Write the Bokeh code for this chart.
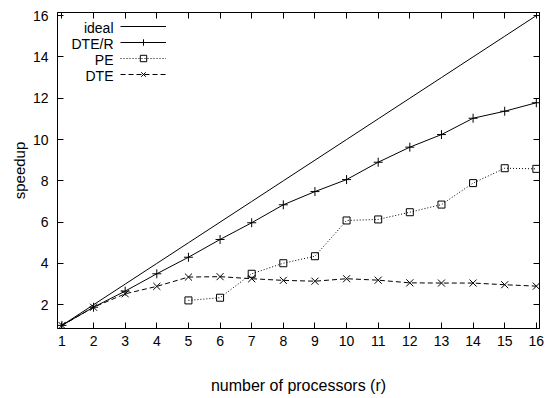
from bokeh.plotting import figure
from bokeh.models import (Range1d, FixedTicker, LinearAxis, Legend, LegendItem,
                          Label, CustomJSTickFormatter)
from bokeh.embed import file_html
from bokeh.resources import INLINE
from bokeh.core.properties import value

# ---- data ----
processors = [1, 2, 3, 4, 5, 6, 7, 8, 9, 10, 11, 12, 13, 14, 15, 16]
ideal = [1, 2, 3, 4, 5, 6, 7, 8, 9, 10, 11, 12, 13, 14, 15, 16]
dte_r = [1.0, 1.88, 2.66, 3.50, 4.30, 5.16, 5.97, 6.84, 7.48, 8.06,
         8.90, 9.63, 10.24, 11.03, 11.37, 11.78]
pe_processors = [5, 6, 7, 8, 9, 10, 11, 12, 13, 14, 15, 16]
pe = [2.21, 2.34, 3.50, 4.01, 4.35, 6.08, 6.13, 6.48, 6.85, 7.89, 8.61, 8.58]
dte = [1.0, 1.88, 2.53, 2.89, 3.34, 3.36, 3.26, 3.18, 3.14, 3.26,
       3.19, 3.06, 3.05, 3.05, 2.97, 2.90]
x_ticks = [1, 2, 3, 4, 5, 6, 7, 8, 9, 10, 11, 12, 13, 14, 15, 16]
y_ticks = [2, 4, 6, 8, 10, 12, 14, 16]
series_names = ["ideal", "DTE/R", "PE", "DTE"]

FONT = "Liberation Sans"
FS = "14px"

p = figure(width=546, height=398, output_backend="svg", toolbar_location=None,
           x_range=Range1d(0.86, 16.1), y_range=Range1d(0.85, 16.15),
           min_border_left=57, min_border_right=7, min_border_top=12,
           min_border_bottom=70)
p.grid.visible = False
p.background_fill_color = "white"
p.border_fill_color = "white"
p.outline_line_color = "black"
p.outline_line_width = 1
p.outline_line_alpha = 1

def style_axis(ax, ticks):
    ax.ticker = FixedTicker(ticks=ticks)
    ax.major_tick_in = 6
    ax.major_tick_out = 0
    ax.minor_tick_line_color = None
    ax.axis_line_color = "black"
    ax.major_tick_line_color = "black"
    ax.major_label_text_font = FONT
    ax.major_label_text_font_size = FS
    ax.major_label_text_color = "black"
    ax.axis_label_text_font = FONT
    ax.axis_label_text_font_size = "15px"
    ax.axis_label_text_font_style = "normal"
    ax.axis_label_text_color = "black"

style_axis(p.xaxis[0], x_ticks)
style_axis(p.yaxis[0], y_ticks)
p.xaxis[0].axis_label = "number of processors (r)"
p.yaxis[0].axis_label = "speedup"
p.xaxis[0].axis_label_text_font_size = "16px"
p.xaxis[0].major_label_standoff = 7
p.yaxis[0].major_label_standoff = 9
p.xaxis[0].axis_label_standoff = 28
p.yaxis[0].axis_label_standoff = 2

# mirrored tick axes (top & right) without labels
for loc, ticks in (("above", x_ticks), ("right", y_ticks)):
    ax = LinearAxis()
    style_axis(ax, ticks)
    ax.formatter = CustomJSTickFormatter(code="return ''")
    ax.major_label_text_font_size = "1px"
    ax.major_label_standoff = 0
    p.add_layout(ax, loc)

# ---- series ----
r_ideal = p.line(processors, ideal, line_color="black", line_width=1)

r_dter_l = p.line(processors, dte_r, line_color="black", line_width=1)
r_dter_m = p.scatter(processors, dte_r, marker="cross", size=9,
                     line_color="black", line_width=1)

r_pe_l = p.line(pe_processors, pe, line_color="black", line_width=1,
                line_dash="1 2")
r_pe_m = p.scatter(pe_processors, pe, marker="square", size=7,
                   line_color="black", fill_color=None, line_width=1)

r_dte_l = p.line(processors, dte, line_color="black", line_width=1,
                 line_dash="5 3")
r_dte_m = p.scatter(processors, dte, marker="x", size=10,
                    line_color="black", line_width=1)

# ---- gnuplot-style key: text right-aligned, sample to its right ----
row_h = 16
legend = Legend(items=[
    LegendItem(label=value(" "), renderers=[r_ideal]),
    LegendItem(label=value(" "), renderers=[r_dter_l, r_dter_m]),
    LegendItem(label=value(" "), renderers=[r_pe_l, r_pe_m]),
    LegendItem(label=value(" "), renderers=[r_dte_l, r_dte_m]),
], location=(63, 246), orientation="vertical", padding=0, margin=0,
   spacing=0, glyph_width=46, glyph_height=row_h, label_height=row_h,
   label_standoff=0, label_width=0, label_text_font_size="10px",
   border_line_alpha=0, background_fill_alpha=0)
p.add_layout(legend, "center")

for i, name in enumerate(series_names):
    p.add_layout(Label(x=56, y=301 - i * row_h, x_units="screen", y_units="screen",
                       text=name, text_align="right", text_baseline="middle",
                       text_font=FONT, text_font_size=FS, text_color="black"))

open("out.html", "w").write(file_html(p, INLINE))
